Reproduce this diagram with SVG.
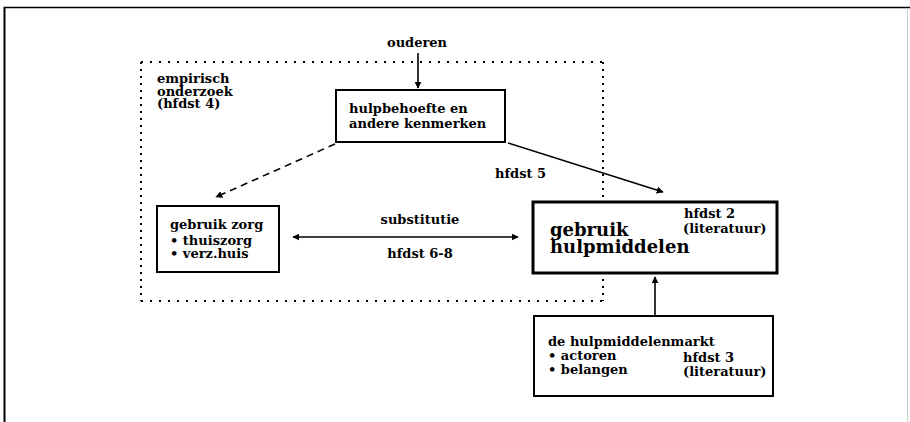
<svg xmlns="http://www.w3.org/2000/svg" width="910" height="422" viewBox="0 0 910 422">
<defs>
<marker id="ah" viewBox="0 0 10 10" refX="9" refY="5" markerWidth="7" markerHeight="7" markerUnits="userSpaceOnUse" orient="auto-start-reverse">
<path d="M0,0 L10,5 L0,10 Z" fill="#000"/>
</marker>
<style>
.t{font-family:"DejaVu Serif","Liberation Serif",serif;font-size:13px;font-weight:bold;fill:#000}
.big{font-size:18px}
.box{fill:#fff;stroke:#000;stroke-width:2}
.thick{stroke-width:3}
.c{fill:none;stroke:#000;stroke-width:1.6}
.dotH{fill:none;stroke:#000;stroke-width:2;stroke-dasharray:2 7}
.dotV{fill:none;stroke:#000;stroke-width:2;stroke-dasharray:2 5}
</style>
</defs>
<rect width="910" height="422" fill="#fff"/>
<g id="frame">
<line x1="4" y1="7.5" x2="910" y2="7.5" stroke="#000" stroke-width="1.5"/>
<line x1="4.5" y1="7" x2="4.5" y2="422" stroke="#000" stroke-width="2"/>
<line x1="907.5" y1="8" x2="907.5" y2="422" stroke="#ccc" stroke-width="1"/>
</g>
<g id="empirisch-onderzoek">
<line class="dotH" x1="141" y1="62" x2="603" y2="62"/>
<line class="dotH" x1="141" y1="301" x2="603" y2="301"/>
<line class="dotV" x1="141" y1="62" x2="141" y2="301"/>
<line class="dotV" x1="603" y1="62" x2="603" y2="301"/>
<text class="t" x="157" y="83">empirisch</text>
<text class="t" x="157" y="95.5">onderzoek</text>
<text class="t" x="157" y="108">(hfdst 4)</text>
</g>
<g id="ouderen">
<text class="t" x="417" y="47" text-anchor="middle">ouderen</text>
</g>
<g id="connectors">
<line class="c" x1="418" y1="53" x2="418" y2="88" marker-end="url(#ah)"/>
<line class="c" x1="335" y1="144" x2="216" y2="197" stroke-dasharray="7 5" marker-end="url(#ah)"/>
<line class="c" x1="508" y1="143" x2="663" y2="192" marker-end="url(#ah)"/>
<line class="c" x1="293" y1="237" x2="518" y2="237" marker-start="url(#ah)" marker-end="url(#ah)"/>
<line class="c" x1="655" y1="316" x2="655" y2="277" stroke-width="2" marker-end="url(#ah)"/>
</g>
<g id="hulpbehoefte">
<rect class="box" x="336" y="90" width="169" height="52"/>
<text class="t" x="349" y="113">hulpbehoefte en</text>
<text class="t" x="349" y="128">andere kenmerken</text>
</g>
<g id="hfdst5">
<text class="t" x="495" y="178">hfdst 5</text>
</g>
<g id="gebruik-zorg">
<rect class="box" x="157" y="206" width="122" height="66"/>
<text class="t" x="170" y="229">gebruik zorg</text>
<text class="t" x="170" y="245">• thuiszorg</text>
<text class="t" x="170" y="258">• verz.huis</text>
</g>
<g id="substitutie">
<text class="t" x="420" y="224" text-anchor="middle">substitutie</text>
<text class="t" x="420" y="258" text-anchor="middle">hfdst 6-8</text>
</g>
<g id="gebruik-hulpmiddelen">
<rect class="box thick" x="533" y="202" width="244" height="71"/>
<text class="t big" x="550" y="236">gebruik</text>
<text class="t big" x="550" y="253">hulpmiddelen</text>
<text class="t" x="684" y="218">hfdst 2</text>
<text class="t" x="683" y="233">(literatuur)</text>
</g>
<g id="hulpmiddelenmarkt">
<rect class="box" x="534" y="316" width="239" height="80"/>
<text class="t" x="548" y="346">de hulpmiddelenmarkt</text>
<text class="t" x="548" y="360">• actoren</text>
<text class="t" x="548" y="374">• belangen</text>
<text class="t" x="683" y="362">hfdst 3</text>
<text class="t" x="683" y="376">(literatuur)</text>
</g>
</svg>
